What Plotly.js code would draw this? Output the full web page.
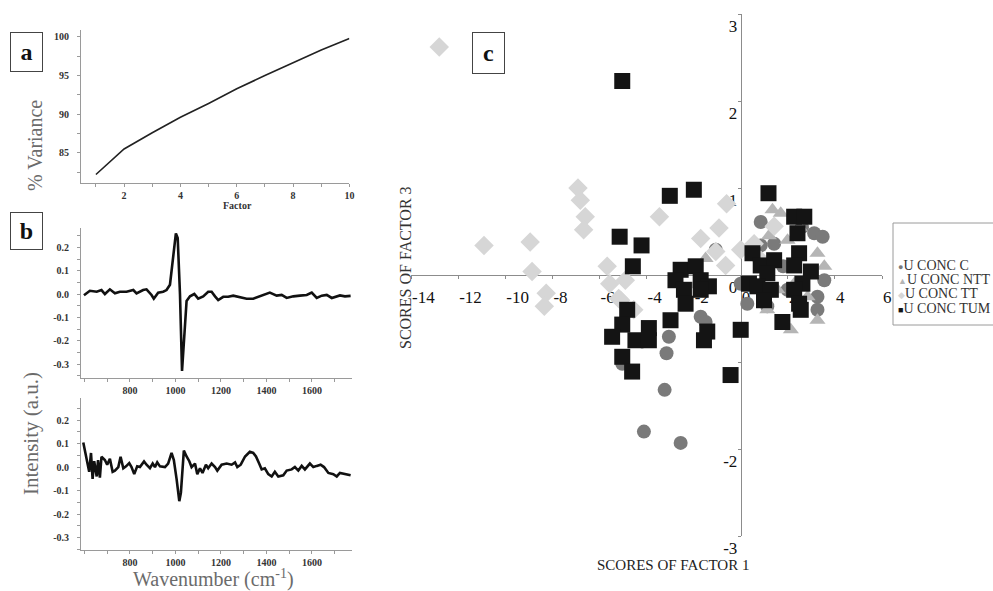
<!DOCTYPE html>
<html><head><meta charset="utf-8">
<script src="https://cdn.plot.ly/plotly-3.0.1.min.js"></script>
<style>html,body{margin:0;padding:0;background:#fff}#chart{width:993px;height:591px}</style>
</head><body><div id="chart"></div>
<script>
// ---------- Panel a: cumulative % variance ----------
const factors = [1,2,3,4,5,6,7,8,9,10];
const variancePct = [82.2,85.5,87.6,89.6,91.4,93.3,95.0,96.7,98.3,99.8];

// ---------- Panel b (top): loading spectrum ----------
const wnTop = [598,624,654,675,690,712,734,756,785,815,829,858,873,895,905,924,946,961,976,988,1002,1010,1020,1029,1037,1049,1064,1083,1100,1122,1144,1159,1174,1188,1210,1232,1254,1283,1313,1342,1371,1401,1415,1445,1467,1489,1518,1547,1577,1599,1621,1643,1665,1687,1709,1723,1745,1770];
const intTop = [-0.005,0.014,0.010,0.017,0.0,0.02,0.003,0.01,0.01,0.017,0.003,0.017,0.02,-0.004,-0.02,0.006,0.01,0.017,0.04,0.14,0.26,0.24,0.0,-0.33,-0.22,-0.03,-0.01,0.0,-0.02,-0.01,0.01,0.01,-0.01,-0.026,-0.012,-0.012,-0.007,-0.012,-0.02,-0.02,-0.01,0.0,0.006,-0.007,-0.004,-0.017,-0.01,-0.007,-0.004,0.006,-0.017,-0.007,-0.004,-0.017,-0.012,-0.006,-0.01,-0.008];

// ---------- Panel b (bottom): loading spectrum ----------
const wnBottom = [595,607,614,621,629,636,643,654,660,668,675,690,700,712,724,734,749,759,771,783,797,807,819,832,844,862,873,888,900,910,920,932,954,968,983,993,1005,1017,1024,1032,1037,1049,1061,1071,1086,1096,1108,1119,1134,1144,1159,1174,1184,1203,1225,1247,1262,1272,1287,1306,1327,1342,1354,1368,1379,1393,1408,1423,1437,1452,1474,1489,1511,1525,1540,1555,1569,1591,1606,1621,1638,1653,1672,1694,1709,1723,1745,1770];
const intBottom = [0.105,0.044,0.025,-0.02,0.06,-0.05,0.025,-0.04,0.03,-0.045,0.044,0.03,0.01,0.035,-0.02,-0.015,0.0,0.044,-0.005,0.003,0.017,0.0,-0.03,0.003,0.0,0.024,0.01,-0.005,0.015,0.0,0.02,0.003,0.0,0.015,0.06,0.03,-0.05,-0.145,-0.11,0.0,0.07,0.045,0.025,0.0,0.015,-0.03,-0.005,-0.025,0.01,-0.005,0.015,0.0,-0.015,0.01,0.015,0.01,0.02,0.0,0.01,0.045,0.065,0.06,0.045,0.015,-0.01,-0.005,-0.03,-0.04,-0.02,-0.04,-0.035,-0.015,-0.01,0.0,-0.015,0.005,-0.01,0.015,0.0,0.005,0.01,0.0,-0.025,-0.03,-0.04,-0.025,-0.03,-0.035];

// ---------- Panel c: scores ----------
const cX  = [0.85,1.42,0.85,3.12,3.48,3.55,3.26,3.26,0.28,0.0,1.13,1.99,-1.06,-1.7,-1.49,-3.05,-3.15,-3.23,-4.11,-2.55,-5.03,2.6,1.8];
const cY  = [0.61,0.36,0.34,0.48,0.44,-0.06,-0.25,-0.4,-0.33,-0.1,-0.36,-0.17,0.29,-0.48,-0.54,-0.71,-0.9,-1.32,-1.8,-1.93,-1.02,0.55,0.1];
const ntX = [1.35,1.7,1.99,-1.49,3.26,3.55,3.26,2.13,1.13,1.56,2.27,2.84,0.85,1.2,2.5];
const ntY = [0.75,0.71,0.4,0.19,0.25,0.1,-0.52,-0.63,-0.4,-0.17,-0.1,-0.25,-0.17,0.45,0.55];
const ttX = [-12.8,-10.9,-8.94,-8.86,-8.26,-8.34,-6.91,-6.81,-6.6,-6.67,-5.67,-5.56,-5.1,-4.9,-4.54,-3.45,-1.7,-0.92,-0.6,-1.06,-0.64,0.0,0.57,1.42,0.85,-5.18];
const ttY = [2.62,0.34,0.38,0.04,-0.21,-0.36,1.0,0.86,0.67,0.52,0.1,-0.1,-0.29,-0.06,-0.4,0.67,0.42,0.54,0.82,0.27,0.11,0.29,0.36,0.56,0.17,-0.27];
const tuX = [-5.03,-3.01,-1.99,-5.14,-4.21,-4.58,1.18,2.27,2.7,2.41,2.48,2.27,2.98,2.62,2.27,2.48,2.55,0.5,0.85,1.42,1.13,0.35,0.71,1.28,0.99,1.77,0.0,-0.43,-2.55,-2.77,-2.41,-2.34,-1.91,-1.7,-1.35,-1.7,-2.98,-1.42,-1.56,-4.82,-5.03,-5.46,-4.47,-3.9,-3.9,-5.03,-4.61];
const tuY = [2.23,0.91,0.98,0.44,0.34,0.1,0.94,0.67,0.67,0.48,0.25,0.11,0.04,-0.1,-0.17,-0.33,-0.4,0.25,0.11,0.17,0.02,-0.1,-0.13,-0.17,-0.29,-0.54,-0.63,-1.15,0.06,-0.06,-0.17,-0.33,0.1,-0.06,-0.13,-0.17,-0.52,-0.65,-0.75,-0.4,-0.57,-0.71,-0.75,-0.61,-0.75,-0.94,-1.11];

const groupNames = ['U CONC C','U CONC NTT','U CONC TT','U CONC TUM'];
const groupSymbols = ['●','▲','◆','■'];
const groupColors = ['#7a7a7a','#b5b5b5','#d6d6d6','#141414'];

// tick labels
const factorTicks = [1,2,3,4,5,6,7,8,9,10];
const factorTickText = ['','2','','4','','6','','8','','10'];
const varTicks = [82.5,85,87.5,90,92.5,95,97.5,100];
const varTickText = ['','85','','90','','95','','100'];
const wnTicks = [600,700,800,900,1000,1100,1200,1300,1400,1500,1600,1700];
const wnTickText = ['','','800','','1000','','1200','','1400','','1600',''];
const intTicks = [-0.35,-0.3,-0.25,-0.2,-0.15,-0.1,-0.05,0,0.05,0.1,0.15,0.2,0.25];
const intTickText = ['','-0.3','','-0.2','','-0.1','','0.0','','0.1','','0.2',''];
const f1Ticks = [-14,-12,-10,-8,-6,-4,-2,0,2,4,6];
const f1TickText = ['-14','-12','-10','-8','-6','-4','-2','0','2','4','6'];
const f3Ticks = [-3,-2,-1,0,1,2,3];
const f3TickText = ['-3','-2','-1','0','1','2','3'];

const W = 993, H = 591;
const px = v => v / W;
const py = v => 1 - v / H;

const serif = 'Liberation Serif, Times New Roman, serif';
const smallTick = {family: serif, size: 10, color: '#333', weight: 'bold'};
const bigTick = {family: serif, size: 17, color: '#111'};

const traces = [
  {x: factors, y: variancePct, xaxis: 'x', yaxis: 'y', mode: 'lines', line: {color: '#222', width: 1.6}},
  {x: wnTop, y: intTop, xaxis: 'x2', yaxis: 'y2', mode: 'lines', line: {color: '#111', width: 2.6}},
  {x: wnBottom, y: intBottom, xaxis: 'x3', yaxis: 'y3', mode: 'lines', line: {color: '#111', width: 2.6}},
  {x: cX, y: cY, xaxis: 'x4', yaxis: 'y4', mode: 'markers', name: groupNames[0], marker: {symbol: 'circle', size: 14, color: groupColors[0]}},
  {x: ntX, y: ntY, xaxis: 'x4', yaxis: 'y4', mode: 'markers', name: groupNames[1], marker: {symbol: 'triangle-up', size: 14, color: groupColors[1]}},
  {x: ttX, y: ttY, xaxis: 'x4', yaxis: 'y4', mode: 'markers', name: groupNames[2], marker: {symbol: 'diamond', size: 15, color: groupColors[2]}},
  {x: tuX, y: tuY, xaxis: 'x4', yaxis: 'y4', mode: 'markers', name: groupNames[3], marker: {symbol: 'square', size: 16, color: groupColors[3]}}
];

const baseAx = {showgrid: false, zeroline: false, showline: true, linecolor: '#9a9a9a', linewidth: 1,
  ticks: 'outside', ticklen: 3, tickcolor: '#9a9a9a', tickfont: smallTick, fixedrange: true};

const wnRange = [585, 1776];
const wnDomain = [px(81), px(352)];

function note(text, x, y, extra) {
  return Object.assign({text: text, x: px(x), y: py(y), xref: 'paper', yref: 'paper',
    xanchor: 'center', yanchor: 'middle', showarrow: false}, extra);
}

const annotations = [
  note('% Variance', 35, 146, {textangle: -90, font: {family: serif, size: 20, color: '#6b6b6b'}}),
  note('Factor', 237, 205, {font: {family: serif, size: 10, color: '#333', weight: 'bold'}}),
  note('Intensity (a.u.)', 31, 434, {textangle: -90, font: {family: serif, size: 21, color: '#6b6b6b'}}),
  note('Wavenumber (cm<sup>-1</sup>)', 213, 578, {font: {family: serif, size: 20, color: '#6b6b6b'}}),
  note('SCORES OF FACTOR 3', 405, 268, {textangle: -90, font: {family: serif, size: 16, color: '#333'}}),
  note('SCORES OF FACTOR 1', 673, 565, {font: {family: serif, size: 15, color: '#222'}}),
  note('<b>a</b>', 26.5, 52, {width: 31, height: 38, bordercolor: '#444', borderwidth: 1, borderpad: 0,
    font: {family: serif, size: 24, color: '#111'}}),
  note('<b>b</b>', 26.5, 231, {width: 31, height: 36, bordercolor: '#444', borderwidth: 1, borderpad: 0,
    font: {family: serif, size: 24, color: '#111'}}),
  note('<b>c</b>', 488.5, 53, {width: 31, height: 40, bordercolor: '#444', borderwidth: 1, borderpad: 0,
    font: {family: serif, size: 24, color: '#111'}})
];

// legend drawn as a boxed list
groupNames.forEach((n, i) => {
  annotations.push(note('<span style="color:' + groupColors[i] + ';font-size:9px">' + groupSymbols[i] + '</span>' + n,
    896, 265 + i * 14.5, {xanchor: 'left', font: {family: serif, size: 14, color: '#333'}}));
});

const layout = {
  width: W, height: H, margin: {l: 0, r: 0, t: 0, b: 0},
  paper_bgcolor: '#fff', plot_bgcolor: 'rgba(0,0,0,0)', showlegend: false,
  xaxis: Object.assign({}, baseAx, {domain: [px(81), px(349.4)], range: [0.47, 10.0], anchor: 'y',
    tickvals: factorTicks, ticktext: factorTickText}),
  yaxis: Object.assign({}, baseAx, {domain: [py(183), py(30)], range: [81.1, 100.9], anchor: 'x',
    tickvals: varTicks, ticktext: varTickText, ticklabelstandoff: 6}),
  xaxis2: Object.assign({}, baseAx, {domain: wnDomain, range: wnRange, anchor: 'y2',
    tickvals: wnTicks, ticktext: wnTickText}),
  yaxis2: Object.assign({}, baseAx, {domain: [py(378), py(228)], range: [-0.36, 0.283], anchor: 'x2',
    tickvals: intTicks, ticktext: intTickText, ticklabelstandoff: 6}),
  xaxis3: Object.assign({}, baseAx, {domain: wnDomain, range: wnRange, anchor: 'y3',
    tickvals: wnTicks, ticktext: wnTickText}),
  yaxis3: Object.assign({}, baseAx, {domain: [py(550), py(398)], range: [-0.353, 0.294], anchor: 'x3',
    tickvals: intTicks, ticktext: intTickText, ticklabelstandoff: 6}),
  xaxis4: {domain: [px(411), px(882)], range: [-14, 6], anchor: 'free', position: (py(536) + py(14)) / 2,
    showgrid: false, zeroline: false, showline: true, linecolor: '#8c8c8c', linewidth: 1.2,
    ticks: 'outside', ticklen: 3, tickcolor: '#8c8c8c', layer: 'below traces',
    tickvals: f1Ticks, ticktext: f1TickText, ticklabelposition: 'outside right', ticklabelstandoff: 6,
    tickfont: bigTick, fixedrange: true},
  yaxis4: {domain: [py(536), py(14)], range: [-3, 3], anchor: 'free',
    position: px(411) + 0.7 * (px(882) - px(411)),
    showgrid: false, zeroline: false, showline: true, linecolor: '#8c8c8c', linewidth: 1.2,
    ticks: 'outside', ticklen: 3, tickcolor: '#8c8c8c', layer: 'below traces',
    tickvals: f3Ticks, ticktext: f3TickText, ticklabelposition: 'outside bottom',
    tickfont: bigTick, fixedrange: true},
  shapes: [
    {type: 'rect', xref: 'paper', yref: 'paper', x0: px(893), x1: px(1003), y0: py(325), y1: py(223),
     line: {color: '#9a9a9a', width: 1}, fillcolor: 'rgba(0,0,0,0)'}
  ],
  annotations: annotations
};

Plotly.newPlot('chart', traces, layout, {staticPlot: true, displayModeBar: false});
</script>
</body></html>
